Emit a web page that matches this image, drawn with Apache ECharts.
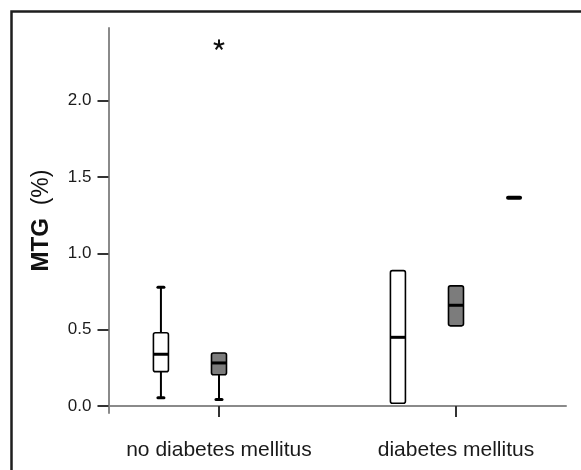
<!DOCTYPE html>
<html>
<head>
<meta charset="utf-8">
<script src="https://cdn.jsdelivr.net/npm/echarts@6/dist/echarts.min.js"></script>
<style>html,body{margin:0;padding:0;background:#fff;}#c{width:581px;height:470px;}</style>
</head>
<body>
<div id="c"></div>
<script>
// ---- data ----
var categories = ['no diabetes mellitus', 'diabetes mellitus'];
var yTicks = [0, 0.5, 1.0, 1.5, 2.0];
// [min, Q1, median, Q3, max] per category (null = no box)
var whiteBoxes = [[0.054, 0.225, 0.339, 0.480, 0.778], [0.018, 0.018, 0.450, 0.887, 0.887]];
var grayBoxes  = [[0.042, 0.205, 0.282, 0.347, 0.347], [0.525, 0.525, 0.660, 0.787, 0.787]];
var blackBoxes = [null, [1.365, 1.365, 1.365, 1.365, 1.365]];
var grayOutliers = [[2.366], []];

// ---- styling ----
var seriesStyles = [
  { name: 'white', fill: '#ffffff', data: whiteBoxes, slot: -1 },
  { name: 'gray',  fill: '#7c7c7c', data: grayBoxes,  slot: 0 },
  { name: 'black', fill: '#000000', data: blackBoxes, slot: 1 }
];
var SLOT = 0.245;   // spacing between boxes within a group (axis units)
var BOXW = 15;      // px

function buildData(arr) {
  var out = [];
  arr.forEach(function (b, i) {
    if (b) out.push([i + 1].concat(b));
  });
  return out;
}

function boxRender(style) {
  return function (params, api) {
    var x = api.value(0) + style.slot * SLOT;
    var pMin = api.coord([x, api.value(1)]);
    var pQ1 = api.coord([x, api.value(2)]);
    var pMed = api.coord([x, api.value(3)]);
    var pQ3 = api.coord([x, api.value(4)]);
    var pMax = api.coord([x, api.value(5)]);
    var cx = pMed[0];
    var hw = BOXW / 2;
    var children = [];
    if (pMin[1] - pQ1[1] > 1) {
      children.push({ type: 'line', shape: { x1: cx, y1: pQ1[1], x2: cx, y2: pMin[1] }, style: { stroke: '#000', lineWidth: 2 } });
      children.push({ type: 'line', shape: { x1: cx - 3, y1: pMin[1], x2: cx + 3, y2: pMin[1] }, style: { stroke: '#000', lineWidth: 3, lineCap: 'round' } });
    }
    if (pQ3[1] - pMax[1] > 1) {
      children.push({ type: 'line', shape: { x1: cx, y1: pMax[1], x2: cx, y2: pQ3[1] }, style: { stroke: '#000', lineWidth: 2 } });
      children.push({ type: 'line', shape: { x1: cx - 3, y1: pMax[1], x2: cx + 3, y2: pMax[1] }, style: { stroke: '#000', lineWidth: 3, lineCap: 'round' } });
    }
    var h = pQ1[1] - pQ3[1];
    if (h > 1) {
      children.push({ type: 'rect', shape: { x: cx - hw, y: pQ3[1], width: BOXW, height: h, r: 2 },
        style: { fill: style.fill, stroke: '#000', lineWidth: 1.6 } });
      children.push({ type: 'line', shape: { x1: cx - hw, y1: pMed[1], x2: cx + hw, y2: pMed[1] }, style: { stroke: '#000', lineWidth: 3 } });
    } else {
      children.push({ type: 'line', shape: { x1: cx - hw + 1.5, y1: pMed[1], x2: cx + hw - 1.5, y2: pMed[1] }, style: { stroke: '#000', lineWidth: 4, lineCap: 'round' } });
    }
    return { type: 'group', children: children };
  };
}

var series = seriesStyles.map(function (s) {
  return {
    type: 'custom', name: s.name, xAxisIndex: 0, yAxisIndex: 0,
    renderItem: boxRender(s),
    encode: { x: 0, y: [1, 2, 3, 4, 5] },
    data: buildData(s.data), silent: true
  };
});

var outData = [];
grayOutliers.forEach(function (list, i) { list.forEach(function (v) { outData.push([i + 1, v]); }); });
series.push({
  type: 'custom', name: 'outliers', silent: true,
  encode: { x: 0, y: 1 },
  renderItem: function (params, api) {
    var p = api.coord([api.value(0), api.value(1)]);
    var ch = [];
    for (var k = 0; k < 5; k++) {
      var a = (-90 + k * 72) * Math.PI / 180;
      ch.push({ type: 'line', shape: { x1: p[0], y1: p[1], x2: p[0] + 5.5 * Math.cos(a), y2: p[1] + 5.5 * Math.sin(a) },
        style: { stroke: '#111', lineWidth: 2 } });
    }
    return { type: 'group', children: ch };
  },
  data: outData
});

var chart = echarts.init(document.getElementById('c'), null, { renderer: 'canvas' });
chart.setOption({
  animation: false,
  backgroundColor: '#fff',
  grid: { left: 108.5, right: 15, top: 28, bottom: 57 },
  xAxis: {
    type: 'value', min: 0.5338, max: 2.4642,
    splitLine: { show: false },
    axisLine: { show: true, lineStyle: { color: '#8a8a8a', width: 2 } },
    axisTick: { show: true, customValues: [1, 2], length: 11, lineStyle: { color: '#333', width: 2 } },
    axisLabel: {
      customValues: [1, 2], margin: 27,
      formatter: function (v) { return categories[Math.round(v) - 1] || ''; },
      color: '#1a1a1a', fontSize: 21, fontFamily: 'Liberation Sans, Arial, sans-serif'
    }
  },
  yAxis: {
    type: 'value', min: -0.046, max: 2.477,
    splitLine: { show: false },
    axisLine: { show: true, lineStyle: { color: '#8a8a8a', width: 2 } },
    axisTick: { show: true, customValues: yTicks, length: 11, lineStyle: { color: '#333', width: 2 } },
    axisLabel: {
      customValues: yTicks, margin: 17,
      formatter: function (v) { return v.toFixed(1); },
      color: '#1a1a1a', fontSize: 17, fontFamily: 'Liberation Sans, Arial, sans-serif'
    },
    name: '{b|MTG}  (%)',
    nameLocation: 'middle', nameGap: 55, nameRotate: 90,
    nameTextStyle: {
      color: '#111', fontSize: 23, fontFamily: 'Liberation Sans, Arial, sans-serif',
      rich: { b: { fontWeight: 'bold', fontSize: 24, color: '#111', fontFamily: 'Liberation Sans, Arial, sans-serif' } }
    }
  },
  graphic: [{
    type: 'rect', left: 9, top: 9, silent: true,
    shape: { x: 0, y: 0, width: 620, height: 500 },
    style: { fill: 'none', stroke: '#1e1e1e', lineWidth: 2.5 }
  }],
  series: series
});
</script>
</body>
</html>
